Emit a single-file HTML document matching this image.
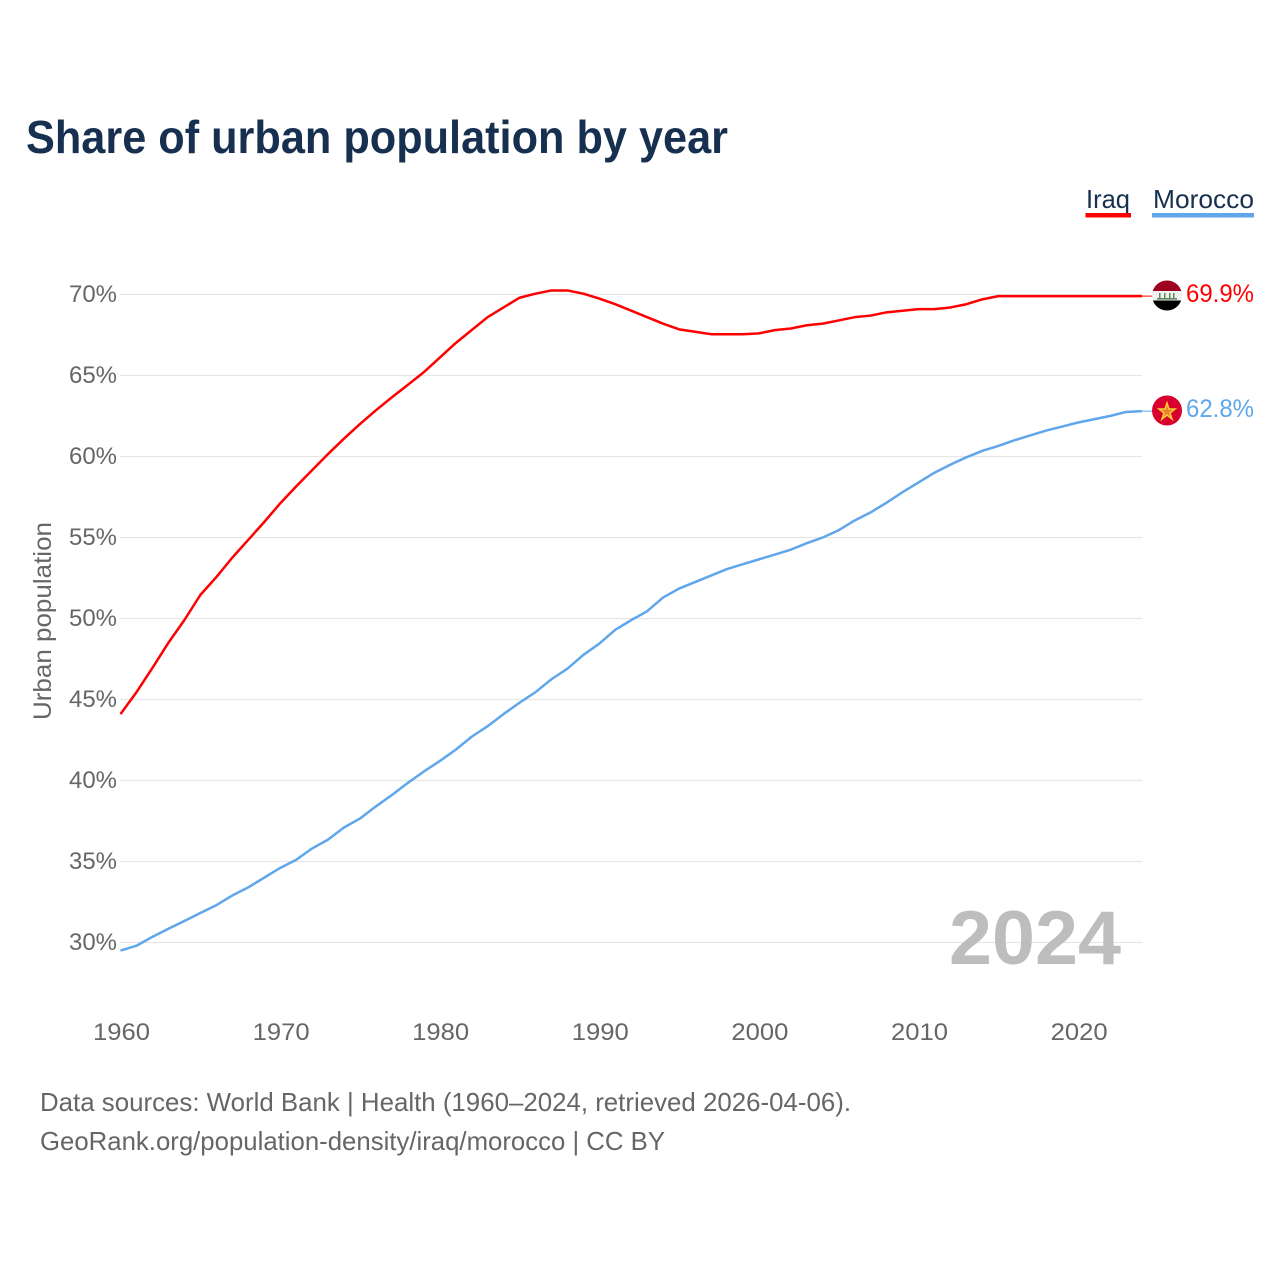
<!DOCTYPE html>
<html lang="en">
<head>
<meta charset="utf-8">
<title>Share of urban population by year</title>
<style>
html,body{margin:0;padding:0;background:#fff;}
svg{display:block;font-family:"Liberation Sans",sans-serif;}
</style>
</head>
<body>
<svg id="chart" xmlns="http://www.w3.org/2000/svg" width="1280" height="1280" viewBox="0 0 1280 1280">
  <rect x="0" y="0" width="1280" height="1280" fill="#fff"/>
  <text x="26" y="153" font-size="46" font-weight="700" fill="#17304f" textLength="702" lengthAdjust="spacingAndGlyphs">Share of urban population by year</text>

  <g>
    <g>
      <text x="1086" y="208" font-size="26" fill="#17304f" textLength="44" lengthAdjust="spacingAndGlyphs">Iraq</text>
      <rect x="1085.5" y="213" width="45.5" height="4.5" fill="#ff0000"/>
    </g>
    <g>
      <text x="1153" y="208" font-size="26" fill="#17304f" textLength="101" lengthAdjust="spacingAndGlyphs">Morocco</text>
      <rect x="1152" y="213" width="102" height="4.5" fill="#5fa6ea"/>
    </g>
  </g>

  <g id="grid"></g>
  <g id="yticks"></g>
  <g id="xticks"></g>
  <text transform="translate(51 720) rotate(-90)" font-size="25" fill="#666" textLength="198" lengthAdjust="spacingAndGlyphs">Urban population</text>
  <text x="949" y="964" font-size="76" font-weight="700" fill="#bdbdbd" textLength="172" lengthAdjust="spacingAndGlyphs">2024</text>
  <g id="series"></g>

  <defs>
    <clipPath id="clip-iraq"><circle cx="1167" cy="295.5" r="15"/></clipPath>
    <clipPath id="clip-morocco"><circle cx="1167" cy="410.5" r="15"/></clipPath>
  </defs>
  <g clip-path="url(#clip-iraq)">
    <rect x="1152" y="280" width="30" height="11" fill="#a00020"/>
    <rect x="1152" y="291" width="30" height="10" fill="#f0f0f0"/>
    <rect x="1152" y="300.5" width="30" height="11" fill="#000"/>
    <rect x="1157" y="298" width="20" height="1.6" fill="#5d8a5a"/>
    <rect x="1159" y="293" width="1.5" height="5" fill="#5d8a5a"/>
    <rect x="1164" y="293" width="1.5" height="5" fill="#5d8a5a"/>
    <rect x="1169" y="293" width="1.5" height="5" fill="#5d8a5a"/>
    <rect x="1173" y="293" width="1.5" height="5" fill="#5d8a5a"/>
  </g>
  <g clip-path="url(#clip-morocco)">
    <rect x="1152" y="395" width="30" height="31" fill="#d9002f"/>
    <polygon points="1167,403 1169,409 1175,409 1170,413 1172,419 1167,415 1162,419 1164,413 1159,409 1165,409" fill="#e8832a" stroke="#f6c936" stroke-width="1.6"/>
  </g>
  <g id="end-labels"></g>

  <text x="40" y="1111" font-size="26" fill="#666" textLength="811" lengthAdjust="spacingAndGlyphs">Data sources: World Bank | Health (1960–2024, retrieved 2026-04-06).</text>
  <text x="40" y="1150" font-size="26" fill="#666" textLength="625" lengthAdjust="spacingAndGlyphs">GeoRank.org/population-density/iraq/morocco | CC BY</text>
</svg>
<script>
const startYear = 1960;
const yTickValues = [30, 35, 40, 45, 50, 55, 60, 65, 70];
const xTickValues = [1960, 1970, 1980, 1990, 2000, 2010, 2020];
const iraqValues = [44.1,45.45,46.95,48.5,49.9,51.45,52.55,53.75,54.85,55.95,57.1,58.15,59.15,60.15,61.1,62.0,62.85,63.65,64.42,65.2,66.1,67.0,67.8,68.6,69.2,69.8,70.05,70.25,70.25,70.05,69.75,69.4,69.0,68.6,68.2,67.85,67.7,67.55,67.55,67.55,67.6,67.8,67.9,68.1,68.2,68.4,68.6,68.7,68.9,69.0,69.1,69.1,69.2,69.4,69.7,69.9,69.9,69.9,69.9,69.9,69.9,69.9,69.9,69.9,69.9];
const moroccoValues = [29.5,29.8,30.35,30.85,31.33,31.82,32.3,32.9,33.4,34.0,34.6,35.1,35.8,36.35,37.1,37.65,38.4,39.1,39.85,40.55,41.2,41.9,42.7,43.35,44.1,44.8,45.45,46.25,46.9,47.75,48.45,49.3,49.9,50.45,51.3,51.85,52.25,52.65,53.05,53.35,53.65,53.95,54.25,54.65,55.0,55.45,56.05,56.55,57.15,57.8,58.4,59.0,59.5,59.95,60.35,60.65,61.0,61.3,61.6,61.85,62.1,62.3,62.5,62.75,62.8];
const iraqEndLabel = "69.9%";
const moroccoEndLabel = "62.8%";

const NS = "http://www.w3.org/2000/svg";
function xScale(year) { return 120.5 + (year - 1960) * 15.96; }
function yScale(v) { return 942.5 - (v - 30) * 16.2; }
function make(tag, parent, attrs) {
  const el = document.createElementNS(NS, tag);
  for (const k in attrs) el.setAttribute(k, attrs[k]);
  parent.appendChild(el);
  return el;
}
const grid = document.getElementById("grid");
const yticks = document.getElementById("yticks");
const xticks = document.getElementById("xticks");
const series = document.getElementById("series");
const endLabels = document.getElementById("end-labels");

yTickValues.forEach(function (v) {
  const line = make("line", grid, {x1: 120, x2: 1142, y1: yScale(v), y2: yScale(v), stroke: "#e6e6e6", "stroke-width": 1.3});
  
  
  const t = make("text", yticks, {x: 117, y: yScale(v) + 7.5, "font-size": 24, fill: "#666", "text-anchor": "end", textLength: 48, lengthAdjust: "spacingAndGlyphs"});
  t.textContent = v + "%";
  
  
});
xTickValues.forEach(function (yr) {
  const t = make("text", xticks, {x: xScale(yr) + 1, y: 1040, "font-size": 24, fill: "#666", "text-anchor": "middle", textLength: 57, lengthAdjust: "spacingAndGlyphs"});
  t.textContent = yr;
  
  
});
function pathFor(values) {
  return values.map(function (v, i) {
    return (i ? "L" : "M") + xScale(startYear + i).toFixed(2) + " " + yScale(v).toFixed(2);
  }).join(" ");
}
function drawSeries(values, color, lineName, leaderName, labelName, labelText) {
  const p = make("path", series, {d: pathFor(values), fill: "none", stroke: color, "stroke-width": 2.5, "stroke-linejoin": "round"});
  
  
  const lastY = yScale(values[values.length - 1]);
  const lead = make("line", series, {x1: xScale(startYear + values.length - 1), x2: 1153, y1: lastY, y2: lastY, stroke: color, "stroke-width": 1});
  
  
  const t = make("text", endLabels, {x: 1186, y: lastY + 6, "font-size": 25, fill: color, textLength: 68, lengthAdjust: "spacingAndGlyphs"});
  t.textContent = labelText;
  
  
}
drawSeries(iraqValues, "#ff0000", "iraq-line", "iraq-leader-line", "iraq-end-value", iraqEndLabel);
drawSeries(moroccoValues, "#5fa6ea", "morocco-line", "morocco-leader-line", "morocco-end-value", moroccoEndLabel);
</script>
</body>
</html>
